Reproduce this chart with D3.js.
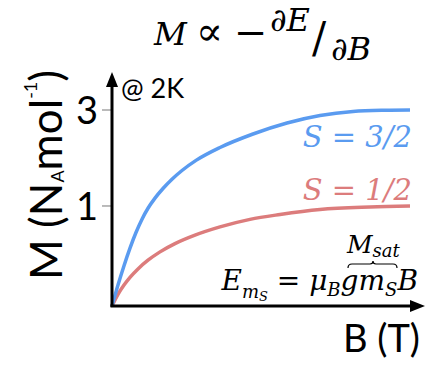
<!DOCTYPE html>
<html>
<head>
<meta charset="utf-8">
<script src="https://cdn.jsdelivr.net/npm/d3@7"></script>
<style>
  body { margin: 0; background: #fff; }
  text { font-family: Lato, "Open Sans", sans-serif; }
  .math { font-family: "DejaVu Serif", "Liberation Serif", serif; font-style: italic; }
</style>
</head>
<body>
<div id="vis"></div>
<script>
// values (B in arbitrary units, M in N_A mol^-1)
const fieldB = [0, 0.201, 0.403, 0.604, 0.805, 1.007, 1.208, 1.443, 1.711, 2.013, 2.349, 2.819, 3.624, 4.732, 5.872, 6.98, 8.087, 9.161, 10];
const mHigh = [0, 0.078, 0.227, 0.410, 0.605, 0.794, 0.963, 1.132, 1.301, 1.473, 1.642, 1.847, 2.121, 2.424, 2.682, 2.864, 2.963, 2.993, 3.0];
const fieldB2 = [0, 0.201, 0.403, 0.604, 0.872, 1.208, 1.611, 2.114, 2.785, 3.624, 4.631, 5.638, 6.98, 8.658, 10];
const mLow = [0, 0.030, 0.078, 0.130, 0.198, 0.279, 0.367, 0.463, 0.570, 0.682, 0.791, 0.865, 0.944, 0.984, 1.0];
const yTicks = [1, 3];
const seriesNames = ["S = 3/2", "S = 1/2"];

const svg = d3.select("#vis")
    .append("svg")
    .attr("width", 428)
    .attr("height", 369);

// schematic axis: ticks are not evenly spaced from the origin
const x = d3.scaleLinear().domain([0, 10]).range([112, 410]);
const y = d3.scalePow().exponent(0.6125).domain([0, 3]).range([306, 110]);

const blue = "#5a9bf0";
const red = "#dc7c7c";

// tick marks
svg.selectAll(".tick")
    .data(yTicks)
    .enter()
    .append("line")
    .attr("x1", 102)
    .attr("x2", 112)
    .attr("y1", d => y(d))
    .attr("y2", d => y(d))
    .attr("stroke", "#777")
    .attr("stroke-width", 1);

svg.selectAll(".tickLabel")
    .data(yTicks)
    .enter()
    .append("text")
    .attr("x", 98)
    .attr("y", d => y(d))
    .attr("dy", "0.36em")
    .attr("text-anchor", "end")
    .attr("font-size", 38)
    .text(d => d);

// curves
const line = d3.line()
    .x(d => x(d[0]))
    .y(d => y(d[1]))
    .curve(d3.curveMonotoneX);

svg.append("path")
    .datum(d3.zip(fieldB2, mLow))
    .attr("d", line)
    .attr("fill", "none")
    .attr("stroke", red)
    .attr("stroke-width", 3.5);

svg.append("path")
    .datum(d3.zip(fieldB, mHigh))
    .attr("d", line)
    .attr("fill", "none")
    .attr("stroke", blue)
    .attr("stroke-width", 3.5);

// axes with arrows
svg.append("line")
    .attr("x1", 112).attr("y1", 307)
    .attr("x2", 112).attr("y2", 84)
    .attr("stroke", "#000").attr("stroke-width", 3);
svg.append("path")
    .attr("d", "M112,72 L106,87 L118,87 Z")
    .attr("fill", "#000");

svg.append("line")
    .attr("x1", 110.5).attr("y1", 306)
    .attr("x2", 412).attr("y2", 306)
    .attr("stroke", "#000").attr("stroke-width", 3);
svg.append("path")
    .attr("d", "M425,306 L410,300 L410,312 Z")
    .attr("fill", "#000");

// series labels
svg.append("text")
    .attr("class", "math")
    .attr("x", 412).attr("y", 147)
    .attr("text-anchor", "end")
    .attr("font-size", 29)
    .attr("fill", blue)
    .text(seriesNames[0]);

svg.append("text")
    .attr("class", "math")
    .attr("x", 412).attr("y", 200)
    .attr("text-anchor", "end")
    .attr("font-size", 29)
    .attr("fill", red)
    .text(seriesNames[1]);

// @ 2K
svg.append("text")
    .attr("x", 121).attr("y", 98)
    .attr("font-size", 27)
    .text("@ 2K");

// axis titles
svg.append("text")
    .attr("x", 420).attr("y", 352)
    .attr("text-anchor", "end")
    .attr("font-size", 38)
    .text("B (T)");

const yLab = svg.append("text")
    .attr("transform", "translate(62,175) rotate(-90)")
    .attr("text-anchor", "middle")
    .attr("font-size", 44);
yLab.append("tspan").text("M (N");
yLab.append("tspan").attr("font-size", 18).attr("dy", 2).text("A");
yLab.append("tspan").attr("dy", -2).text("mol");
yLab.append("tspan").attr("font-size", 18).attr("dy", -25).text("-1");
yLab.append("tspan").attr("dy", 25).text(")");

// title M ∝ -∂E/∂B
svg.append("text").attr("class", "math")
    .attr("x", 154).attr("y", 45).attr("font-size", 32).text("M");
svg.append("text").attr("class", "math").style("font-style", "normal")
    .attr("x", 196).attr("y", 45).attr("font-size", 40).text("∝");
svg.append("text").attr("class", "math").style("font-style", "normal")
    .attr("x", 234).attr("y", 46).attr("font-size", 40).text("−");
svg.append("text").attr("class", "math")
    .attr("x", 270).attr("y", 31).attr("font-size", 32).text("∂E");
svg.append("text").attr("class", "math").style("font-style", "normal")
    .attr("x", 312).attr("y", 52).attr("font-size", 42).text("/");
svg.append("text").attr("class", "math")
    .attr("x", 331).attr("y", 60).attr("font-size", 32).text("∂B");

// E_mS = μB g mS B with overbrace M_sat
const eq = svg.append("text").attr("class", "math")
    .attr("x", 418).attr("y", 290)
    .attr("text-anchor", "end")
    .attr("font-size", 28);
eq.append("tspan").text("E");
eq.append("tspan").attr("font-size", 18).attr("dy", 8).text("m");
eq.append("tspan").attr("font-size", 13).attr("dy", 3).text("S");
eq.append("tspan").attr("dy", -11).style("font-style", "normal").text(" = ");
eq.append("tspan").text("μ");
eq.append("tspan").attr("font-size", 18).attr("dy", 6).text("B");
eq.append("tspan").attr("dy", -6).text("gm");
eq.append("tspan").attr("font-size", 18).attr("dy", 6).text("S");
eq.append("tspan").attr("dy", -6).text("B");

svg.append("path")
    .attr("d", "M348,268 Q348,264 352,264 L370,264 Q373,264 373,261 Q373,264 376,264 L393,264 Q397,264 397,268")
    .attr("fill", "none")
    .attr("stroke", "#000")
    .attr("stroke-width", 1.2);

const msat = svg.append("text").attr("class", "math")
    .attr("x", 347).attr("y", 253)
    .attr("font-size", 25);
msat.append("tspan").text("M");
msat.append("tspan").attr("font-size", 18).attr("dy", 4).text("sat");
</script>
</body>
</html>
